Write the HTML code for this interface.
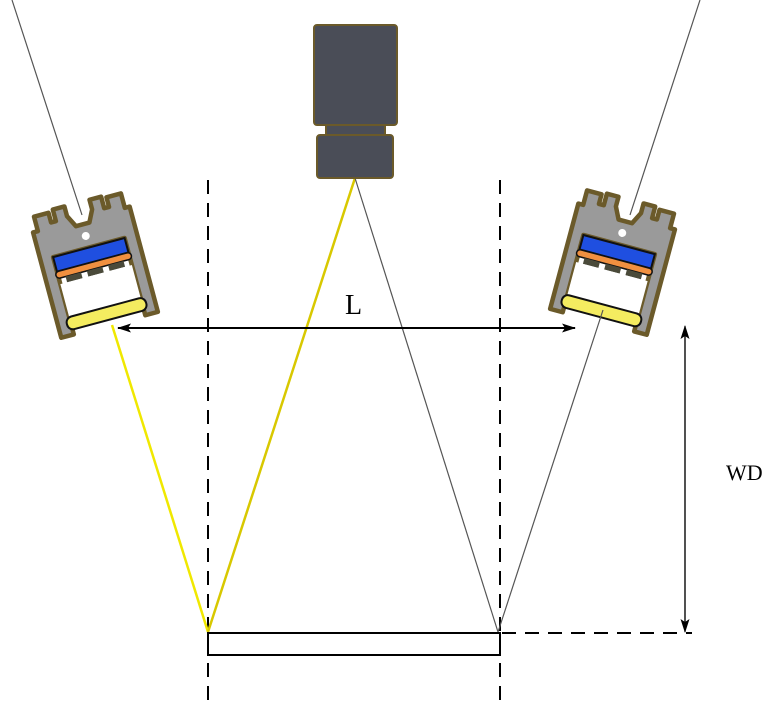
<!DOCTYPE html>
<html><head><style>html,body{margin:0;padding:0;background:#fff}</style></head><body>
<svg width="770" height="700" viewBox="0 0 770 700" xmlns="http://www.w3.org/2000/svg">
<defs>
<marker id="ah" markerWidth="14" markerHeight="9" refX="13" refY="4.5" orient="auto" markerUnits="userSpaceOnUse">
<path d="M0,0 L14,4.5 L0,9 L3,4.5 Z" fill="#000"/></marker>
<g id="fix">
<path d="M-50,-45 L-45,-45 L-45,-60 L-30,-60 L-30,-50 L-25,-50 L-25,-62 L-13,-62 L-13,-52 L-7,-40 L7,-40 L13,-52 L13,-62 L25,-62 L25,-50 L30,-50 L30,-60 L45,-60 L45,-45 L50,-45 L50,64 L37,64 L37,-16 L-37,-16 L-37,64 L-50,64 Z" fill="#9a9a9a" stroke="#6b5a2a" stroke-width="4.5" stroke-linejoin="round"/>
<circle cx="0" cy="-28" r="4" fill="#fff"/>
<rect x="-37" y="-16" width="74" height="15" fill="#1f4fe0" stroke="#111" stroke-width="2"/>
<rect x="-39" y="-1" width="78" height="7" rx="3.5" fill="#f09040" stroke="#111" stroke-width="1.5"/>
<rect x="-30" y="6" width="16" height="6" fill="#4a4a3a"/><rect x="-8" y="6" width="16" height="6" fill="#4a4a3a"/><rect x="14" y="6" width="16" height="6" fill="#4a4a3a"/>
<rect x="-37" y="12" width="74" height="38" fill="#fff"/>
<rect x="-41" y="46" width="82" height="13" rx="6" fill="#f4ec60" stroke="#111" stroke-width="2"/>
</g>
</defs>
<line x1="12" y1="0" x2="82" y2="215" stroke="#555" stroke-width="1.2"/>
<line x1="700" y1="0" x2="630" y2="215" stroke="#555" stroke-width="1.2"/>
<use href="#fix" transform="translate(93,263) rotate(-15)"/>
<use href="#fix" transform="translate(615,260) rotate(15)"/>
<line x1="208" y1="180" x2="208" y2="700" stroke="#000" stroke-width="2" stroke-dasharray="14,9"/>
<line x1="500" y1="180" x2="500" y2="700" stroke="#000" stroke-width="2" stroke-dasharray="14,9"/>
<line x1="502" y1="633" x2="692" y2="633" stroke="#000" stroke-width="2" stroke-dasharray="14,9"/>
<line x1="112" y1="325" x2="208" y2="632" stroke="#f0e800" stroke-width="2.5"/>
<line x1="355" y1="178" x2="208" y2="632" stroke="#d8c800" stroke-width="2.5"/>
<line x1="355" y1="178" x2="498" y2="632" stroke="#555" stroke-width="1.2"/>
<line x1="603" y1="310" x2="498" y2="632" stroke="#555" stroke-width="1.2"/>
<rect x="314" y="25" width="83" height="100" rx="3" fill="#4a4d57" stroke="#6b5a2a" stroke-width="2"/>
<rect x="326" y="125" width="59" height="10" fill="#4a4d57" stroke="#6b5a2a" stroke-width="2"/>
<rect x="317" y="135" width="76" height="43" rx="3" fill="#4a4d57" stroke="#6b5a2a" stroke-width="2"/>
<line x1="135" y1="328" x2="575" y2="328" stroke="#000" stroke-width="2" marker-end="url(#ah)"/>
<line x1="575" y1="328" x2="118" y2="328" stroke="#000" stroke-width="2" marker-end="url(#ah)"/>
<text x="345" y="314" font-family="Liberation Serif, serif" font-size="28" transform="scale(1,1)">L</text>
<line x1="685" y1="630" x2="685" y2="326" stroke="#000" stroke-width="1.2" marker-end="url(#ah)"/>
<line x1="685" y1="330" x2="685" y2="632" stroke="#000" stroke-width="1.2" marker-end="url(#ah)"/>
<text x="726" y="480" font-family="Liberation Serif, serif" font-size="22">WD</text>
<rect x="208" y="633" width="292" height="22" fill="#fff" stroke="#000" stroke-width="2"/>
</svg>
</body></html>
